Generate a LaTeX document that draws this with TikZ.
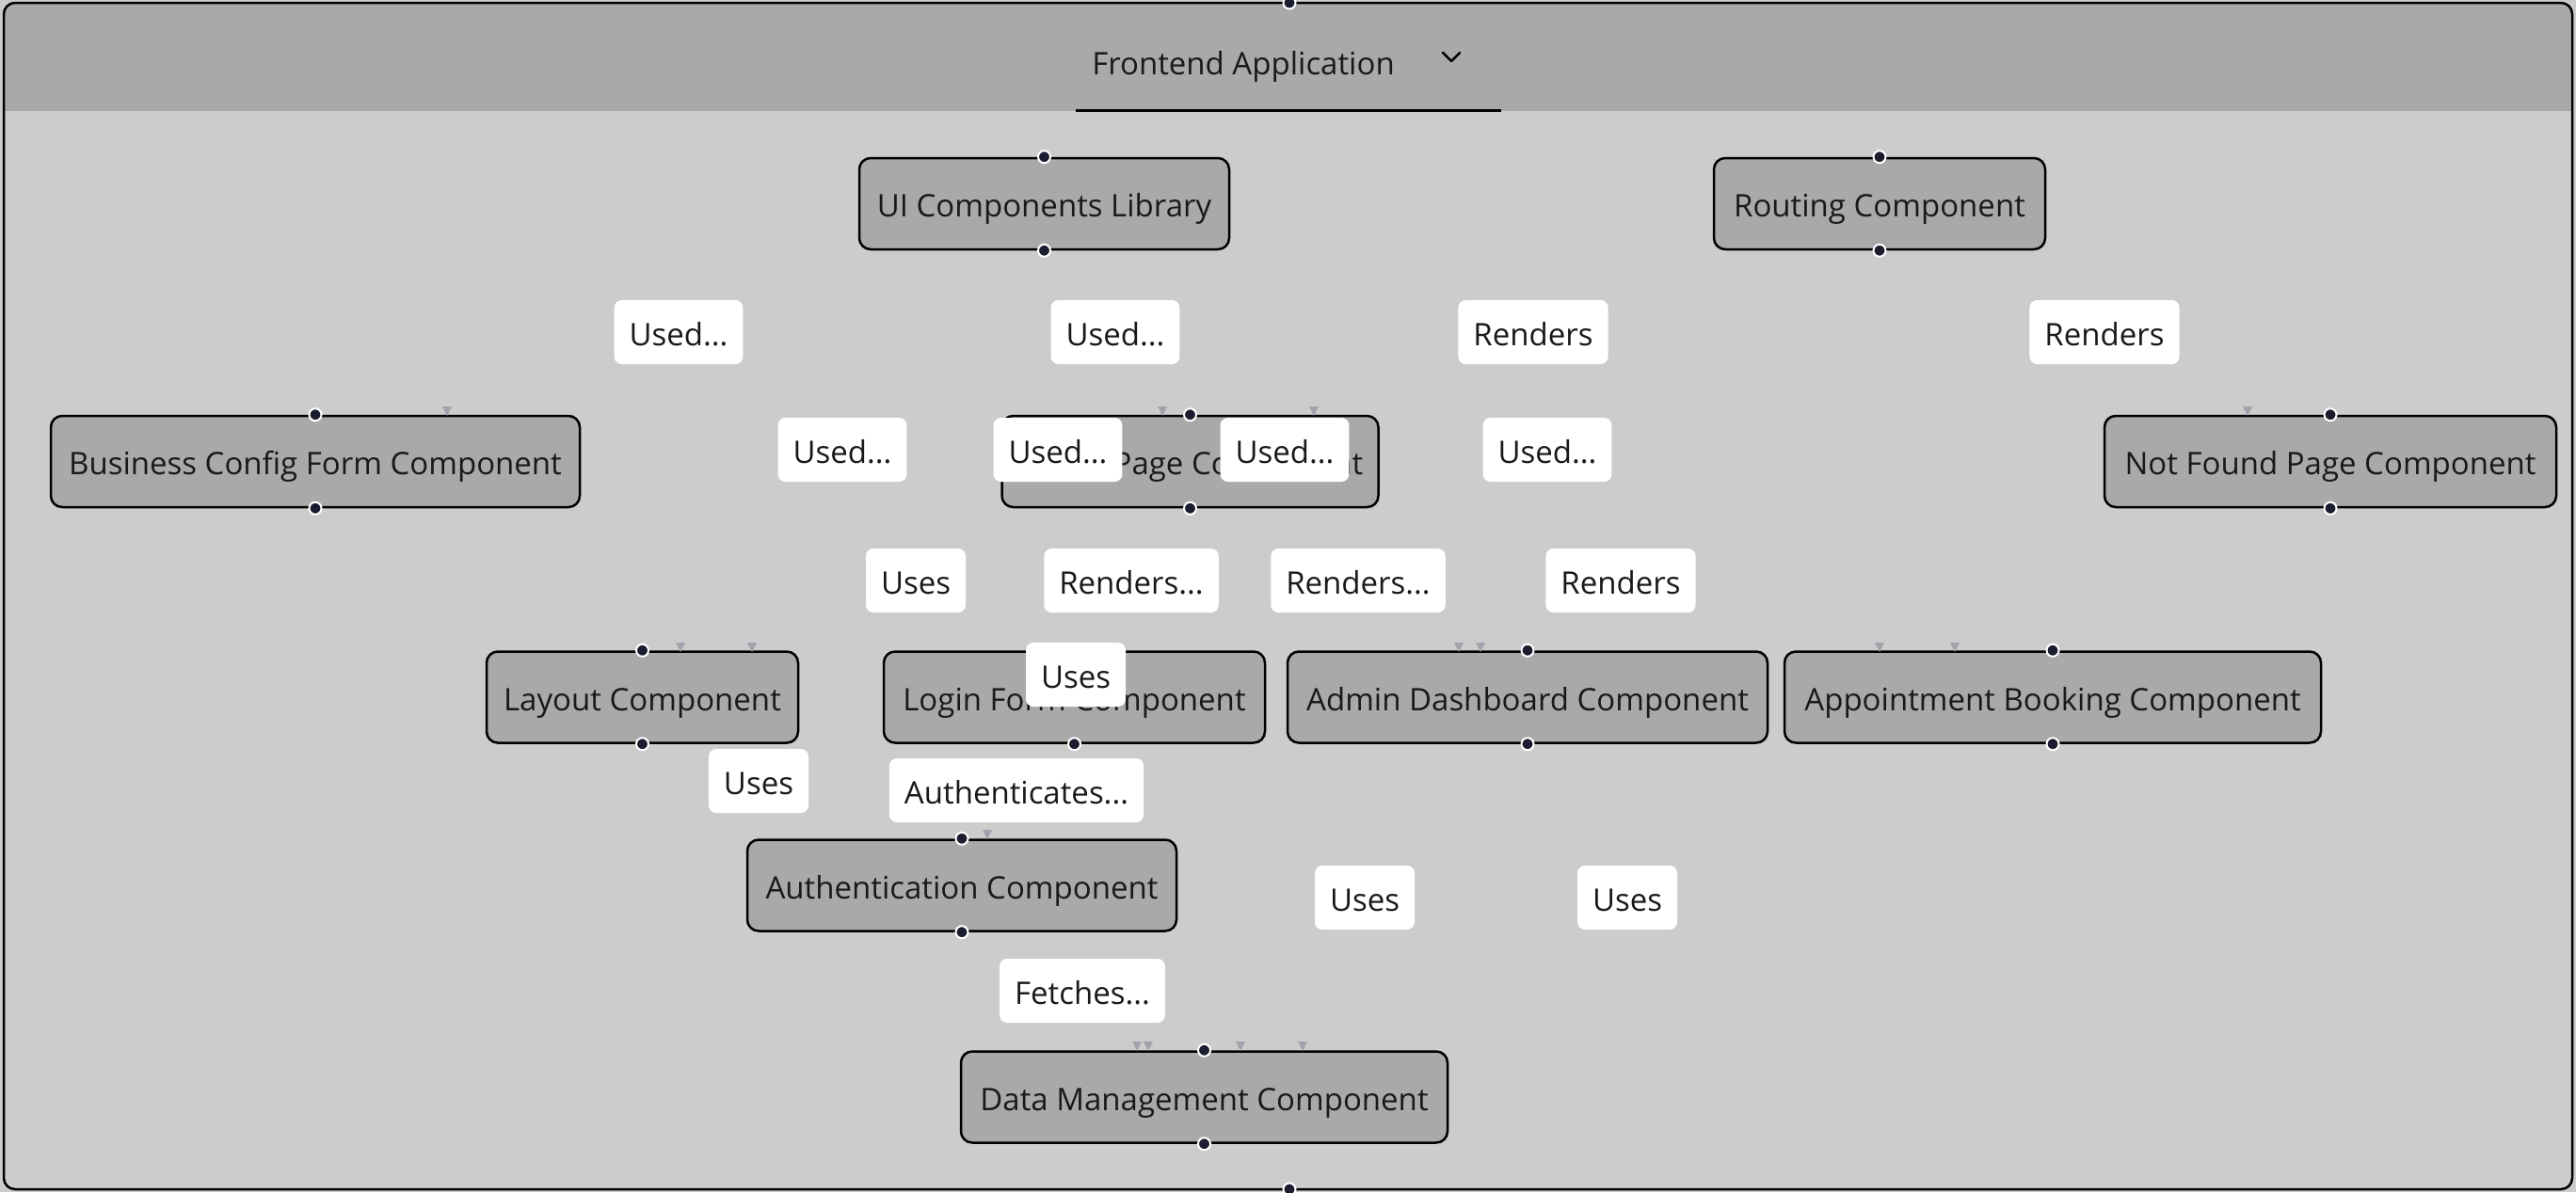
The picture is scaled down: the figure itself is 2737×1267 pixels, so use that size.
\documentclass[tikz,border=0pt]{standalone}
\usepackage{fontspec}
\setmainfont{Open Sans}
\definecolor{bodygray}{HTML}{CCCCCC}
\definecolor{headgray}{HTML}{A9A9A9}
\definecolor{nodegray}{HTML}{A9A9A9}
\definecolor{portc}{HTML}{1C1C30}
\definecolor{trigray}{HTML}{A2A2AC}
\newcommand\bigfs{\fontsize{33}{40}\selectfont}
\tikzset{
  txt/.style={font=\bigfs, text=black!90, text height=28pt, text depth=0pt},
  comp/.style={txt, draw=black, line width=2.5pt, fill=nodegray, rounded corners=12pt,
    minimum height=97pt, inner sep=0pt},
  lbl/.style={txt, fill=white, rounded corners=8pt, minimum height=68pt, inner xsep=16pt,
    inner ysep=0pt},
  port/.style={circle, fill=portc, draw=white, line width=2pt, inner sep=0pt, minimum size=13pt},
  tri/.style={fill=trigray, draw=none}
}
\newcommand\downtri[2]{\fill[tri] (#1-5,#2-10) -- (#1+5,#2-10) -- (#1,#2) -- cycle;}
\begin{document}
\begin{tikzpicture}[x=1pt,y=-1pt]
\useasboundingbox (0,0) rectangle (2737,1267);
\fill[bodygray] (0,0) rectangle (2737,1267);
% container
\begin{scope}
\clip[rounded corners=12pt] (4,3) rectangle (2733,1264);
\fill[headgray] (4,3) rectangle (2733,118);
\end{scope}
\draw[line width=2.5pt, rounded corners=12pt] (4,3) rectangle (2733,1264);
\node[txt, inner sep=0pt] (title) at (1321,65) {Frontend Application};
\draw[line width=2.5pt, line cap=round, line join=round] (1533,56) -- (1542,65) -- (1551,56);
\draw[line width=3pt] (1143,117) -- (1595,117);
\node[port] (ctop) at (1370,3) {};
\node[port] (cbot) at (1370,1264) {};

% components
\node[comp, minimum width=393pt] (ui) at (1109.5,216.5) {UI Components Library};
\node[comp, minimum width=352pt] (routing) at (1997,216.5) {Routing Component};
\node[comp, minimum width=562pt] (biz) at (335,490.5) {Business Config Form Component};
\node[comp, minimum width=400pt] (page) at (1264.5,490.5) {Home Page Component};
\node[comp, minimum width=480pt] (notfound) at (2476,490.5) {Not Found Page Component};
\node[comp, minimum width=331pt] (layout) at (682.5,741) {Layout Component};
\node[comp, minimum width=405pt] (login) at (1141.5,741) {Login Form Component};
\node[comp, minimum width=510pt] (admin) at (1623,741) {Admin Dashboard Component};
\node[comp, minimum width=570pt] (appt) at (2181,741) {Appointment Booking Component};
\node[comp, minimum width=456pt] (auth) at (1022,941) {Authentication Component};
\node[comp, minimum width=517pt] (data) at (1279.5,1166) {Data Management Component};

% ports
\foreach \n in {ui,routing,biz,page,notfound,layout,login,admin,appt,auth,data}{
  \node[port] at (\n.north) {};
  \node[port] at (\n.south) {};
}

% arrow tips
\downtri{475}{442}
\downtri{1235}{442}
\downtri{1396}{442}
\downtri{2388}{442}
\downtri{723}{693}
\downtri{799}{693}
\downtri{1550}{693}
\downtri{1573}{693}
\downtri{1997}{693}
\downtri{2077}{693}
\downtri{1049}{892}
\downtri{1208}{1117}
\downtri{1220}{1117}
\downtri{1318}{1117}
\downtri{1384}{1117}

% labels
\node[lbl] (l1) at (721,353) {Used...};
\node[lbl] (l2) at (1185,353) {Used...};
\node[lbl] (l3) at (1629,353) {Renders};
\node[lbl] (l4) at (2236,353) {Renders};
\node[lbl] (l5) at (895,478) {Used...};
\node[lbl] (l6) at (1124,478) {Used...};
\node[lbl] (l7) at (1365,478) {Used...};
\node[lbl] (l8) at (1644,478) {Used...};
\node[lbl] (l9) at (973,617) {Uses};
\node[lbl] (l10) at (1202,617) {Renders...};
\node[lbl] (l11) at (1443,617) {Renders...};
\node[lbl] (l12) at (1722,617) {Renders};
\node[lbl] (l13) at (1143,717) {Uses};
\node[lbl] (l14) at (806,830) {Uses};
\node[lbl] (l15) at (1080,840) {Authenticates...};
\node[lbl] (l16) at (1450,954) {Uses};
\node[lbl] (l17) at (1729,954) {Uses};
\node[lbl] (l18) at (1150,1053) {Fetches...};
\end{tikzpicture}
\end{document}
